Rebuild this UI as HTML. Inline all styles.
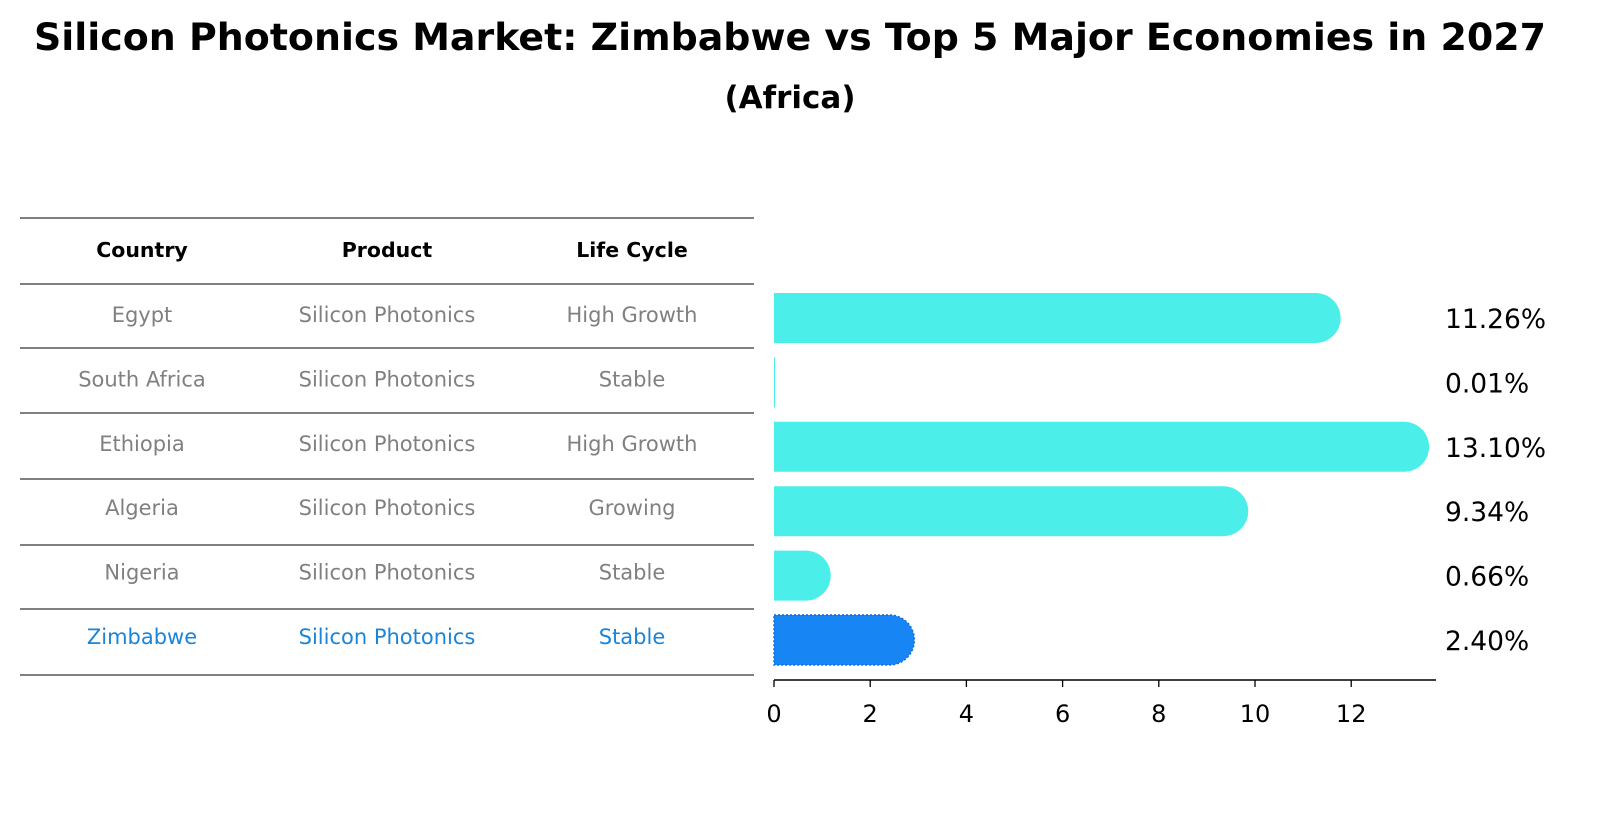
<!DOCTYPE html>
<html><head><meta charset="utf-8"><style>
html,body{margin:0;padding:0;background:#fff;overflow:hidden;font-family:"Liberation Sans","DejaVu Sans",sans-serif;}
svg{display:block;}
svg text{font-family:"DejaVu Sans","Liberation Sans",sans-serif;}
</style></head><body>
<svg id="c" width="1604" height="823" xmlns="http://www.w3.org/2000/svg">
<text x="790" y="50" text-anchor="middle" font-size="37" font-weight="bold" textLength="1512" lengthAdjust="spacingAndGlyphs">Silicon Photonics Market: Zimbabwe vs Top 5 Major Economies in 2027</text>
<text x="790" y="108" text-anchor="middle" font-size="31" font-weight="bold">(Africa)</text>
<g id="tbl"></g>
<g id="bars"></g>
</svg>
<script>
const countries=["Egypt","South Africa","Ethiopia","Algeria","Nigeria","Zimbabwe"];
const products=["Silicon Photonics","Silicon Photonics","Silicon Photonics","Silicon Photonics","Silicon Photonics","Silicon Photonics"];
const lifecycle=["High Growth","Stable","High Growth","Growing","Stable","Stable"];
const values=[11.26,0.01,13.10,9.34,0.66,2.40];
const ticks=[0,2,4,6,8,10,12];
const NS="http://www.w3.org/2000/svg";
function mk(t,a,p){const e=document.createElementNS(NS,t);for(const k in a)e.setAttribute(k,a[k]);p.appendChild(e);return e;}
const tbl=document.getElementById('tbl'),bars=document.getElementById('bars');
const rowY=i=>318+i*64.4;
const x=v=>774+v*48.1;
const lines=[218,284,348,413,479,545,609,675];
lines.forEach((y,i)=>{const l=mk('line',{x1:20,x2:754,y1:y,y2:y,stroke:'#000','stroke-width':1},tbl);

});
const cx=[142,387,632];
["Country","Product","Life Cycle"].forEach((h,j)=>{const t=mk('text',{x:cx[j],y:257,'text-anchor':'middle','font-size':20.5,'font-weight':'bold'},tbl);t.textContent=h;

});
countries.forEach((c,i)=>{const col=i==5?'#1a85d8':'#808080';
[c,products[i],lifecycle[i]].forEach((s,j)=>{const t=mk('text',{x:cx[j],y:rowY(i)+4,'text-anchor':'middle','font-size':21,fill:col},tbl);t.textContent=s;

});});
values.forEach((v,i)=>{const y=rowY(i),h=50,col=i==5?'#1885f5':'#4beee9';
const w=Math.max(x(v)-774,1);
const g=mk('g',{},bars);


if(v>0.1){
mk('path',{d:`M774,${y-h/2} H${x(v)} A${h/2},${h/2} 0 0 1 ${x(v)},${y+h/2} H774 Z`,fill:col,stroke:i==5?'#0f6fd6':'none','stroke-width':1.5,'stroke-dasharray':i==5?'2,2':'none'},g);
}else{
mk('rect',{x:774,y:y-h/2,width:w,height:h,fill:col},g);}
const t=mk('text',{x:1445,y:y+10,'font-size':26.5},bars);t.textContent=v.toFixed(2)+'%';

});
const ax=mk('line',{x1:774,x2:1436,y1:680,y2:680,stroke:'#000','stroke-width':1.5},bars);


ticks.forEach(v=>{const tk=mk('line',{x1:x(v),x2:x(v),y1:680,y2:687,stroke:'#000','stroke-width':1.3},bars);


const t=mk('text',{x:x(v),y:722,'text-anchor':'middle','font-size':24},bars);t.textContent=v;

});
</script>
</body></html>
